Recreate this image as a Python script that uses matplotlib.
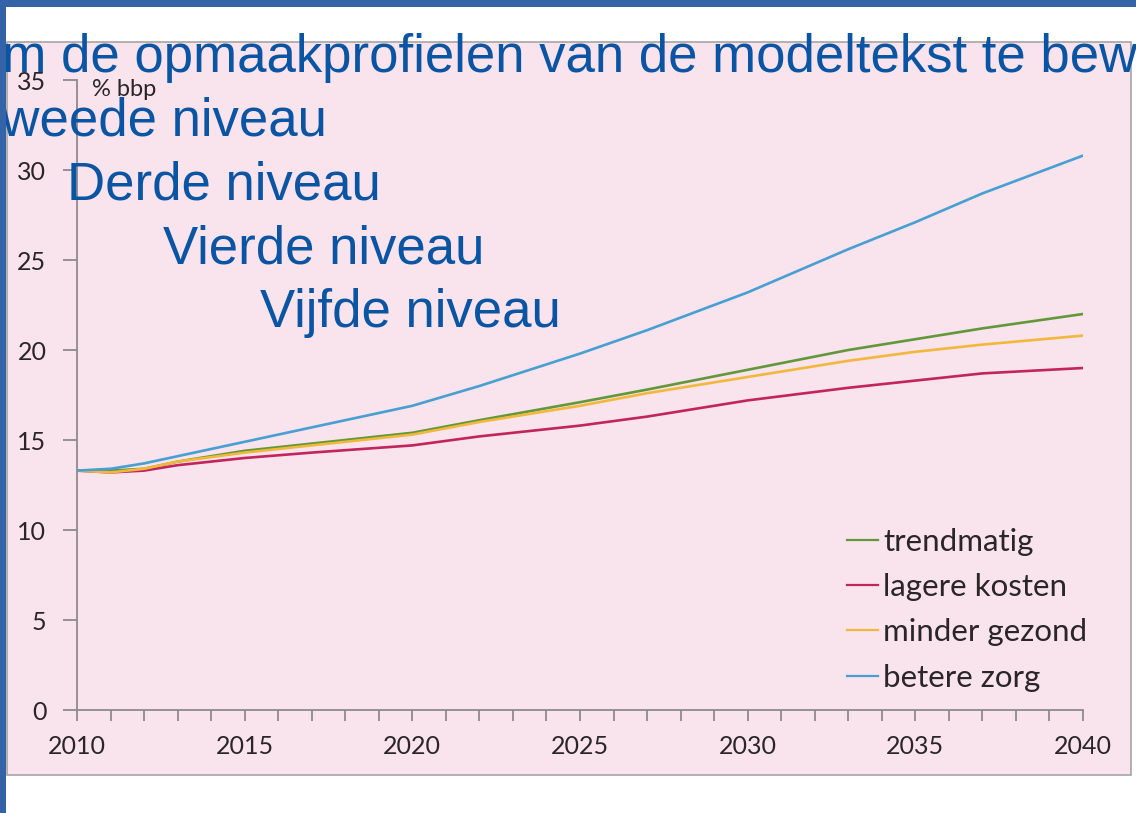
import matplotlib.pyplot as plt
from matplotlib.patches import Rectangle

# Data (% bbp)
years = [2010, 2011, 2012, 2013, 2015, 2017, 2020, 2022, 2025, 2027, 2030, 2033, 2035, 2037, 2040]
trendmatig = [13.3, 13.3, 13.4, 13.8, 14.4, 14.8, 15.4, 16.1, 17.1, 17.8, 18.9, 20.0, 20.6, 21.2, 22.0]
lagere_kosten = [13.3, 13.2, 13.3, 13.6, 14.0, 14.3, 14.7, 15.2, 15.8, 16.3, 17.2, 17.9, 18.3, 18.7, 19.0]
minder_gezond = [13.3, 13.2, 13.4, 13.8, 14.3, 14.7, 15.3, 16.0, 16.9, 17.6, 18.5, 19.4, 19.9, 20.3, 20.8]
betere_zorg = [13.3, 13.4, 13.7, 14.1, 14.9, 15.7, 16.9, 18.0, 19.8, 21.1, 23.2, 25.6, 27.1, 28.7, 30.8]

series_labels = ['trendmatig', 'lagere kosten', 'minder gezond', 'betere zorg']
series_colors = ['#62983a', '#c2255c', '#f2b83c', '#479fd2']
x_ticks = [2010, 2015, 2020, 2025, 2030, 2035, 2040]
y_ticks = [0, 5, 10, 15, 20, 25, 30, 35]

slide_lines = [
    'om de opmaakprofielen van de modeltekst te bewerken',
    'Tweede niveau',
    'Derde niveau',
    'Vierde niveau',
    'Vijfde niveau',
]

W, H = 1136, 813
fig = plt.figure(figsize=(W / 100, H / 100), dpi=100)
fig.patch.set_facecolor('white')

def px(x, y):
    # pixel (from top-left) -> figure fraction
    return x / W, 1 - y / H

# pink chart panel
x0, y0 = px(7, 775)
x1, y1 = px(1131, 42)
fig.patches.append(Rectangle((x0, y0), x1 - x0, y1 - y0, transform=fig.transFigure,
                             facecolor='#f9e3ec', edgecolor='#a8a4a6', linewidth=1.2, zorder=-1))

l, b = px(77, 710)
r, t = px(1083, 80)
ax = fig.add_axes([l, b, r - l, t - b])
ax.set_zorder(1)
ax.set_facecolor('none')

series = [trendmatig, lagere_kosten, minder_gezond, betere_zorg]
for vals, lab, col in zip(series, series_labels, series_colors):
    ax.plot(years, vals, color=col, linewidth=1.9, label=lab)

ax.set_xlim(2010, 2040)
ax.set_ylim(0, 35)
ax.set_xticks(x_ticks)
ax.set_xticks(range(2010, 2041), minor=True)
ax.set_yticks(y_ticks)
for s in ['top', 'right']:
    ax.spines[s].set_visible(False)
for s in ['left', 'bottom']:
    ax.spines[s].set_color('#8c8a8c')
    ax.spines[s].set_linewidth(1.3)
ax.tick_params(axis='both', which='both', direction='out', length=8, width=1.3,
               color='#8c8a8c', labelcolor='#2a2628', labelsize=18)
ax.tick_params(axis='x', which='both', pad=10)
ax.tick_params(axis='y', pad=12, length=10)
for lab in ax.get_xticklabels() + ax.get_yticklabels():
    lab.set_fontfamily('Lato')

ax.text(0.015, 0.985, '% bbp', transform=ax.transAxes, fontsize=17, family='Lato',
        color='#2a2628', va='center', ha='left')

leg = ax.legend(loc='upper left', bbox_to_anchor=px(847, 528), bbox_transform=fig.transFigure,
                frameon=False, prop={'family': 'Lato', 'size': 22.5}, handlelength=1.0,
                handletextpad=0.15, labelspacing=0.55, borderpad=0, borderaxespad=0)
for txt in leg.get_texts():
    txt.set_color('#2a2628')
for ln in leg.get_lines():
    ln.set_linewidth(1.6)

# slide placeholder text over the chart
text_pos = [(-27, 72), (-28, 135), (67, 199), (163, 263), (260, 327)]
for s, (tx, ty) in zip(slide_lines, text_pos):
    fx, fy = px(tx, ty)
    fig.text(fx, fy, s, fontsize=38, family='Liberation Sans', color='#0a55a3',
             ha='left', va='baseline', zorder=5)

# blue slide frame
fig.patches.append(Rectangle(px(0, 7), 1, 7 / H, transform=fig.transFigure,
                             facecolor='#3563a8', edgecolor='none', zorder=10))
fig.patches.append(Rectangle((0, 0), 6 / W, 1, transform=fig.transFigure,
                             facecolor='#3563a8', edgecolor='none', zorder=10))

fig.savefig('out.png', dpi=100)
